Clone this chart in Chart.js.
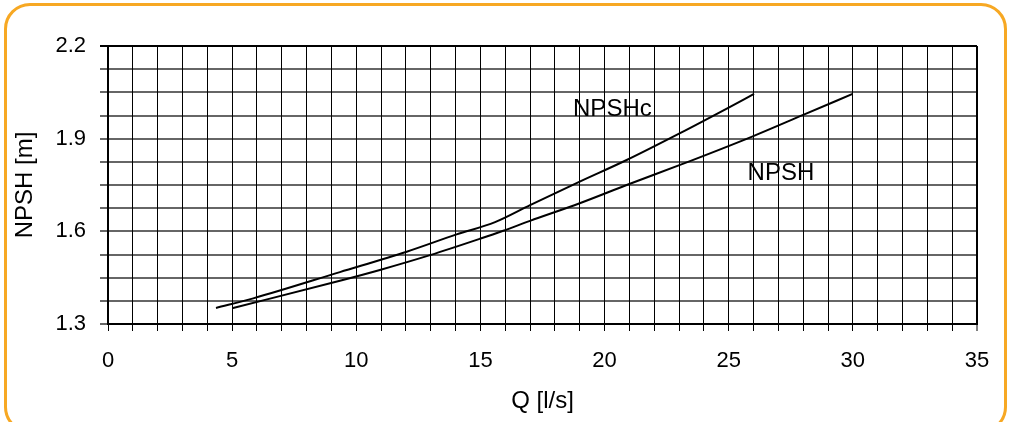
<!DOCTYPE html>
<html>
<head>
<meta charset="utf-8">
<script src="https://cdn.jsdelivr.net/npm/chart.js@4.4.1/dist/chart.umd.min.js"></script>
<style>
  html, body { margin: 0; padding: 0; background: #fff; }
  #wrap { position: relative; width: 1016px; height: 422px; overflow: hidden; }
  #frame {
    position: absolute; left: 4px; top: 3px; width: 1003px; height: 430px;
    border: 3px solid #f7a823; border-radius: 26px; box-sizing: border-box;
  }
  canvas { position: absolute; left: 0; top: 0; }
</style>
</head>
<body>
<div id="wrap">
  <div id="frame"></div>
  <canvas id="npshChart" width="1016" height="422"></canvas>
</div>
<script>
// NPSHc curve
const npshcQ = [4.35, 5.85, 9.34, 12.03, 14.04, 15.59, 17.0, 19.0, 20.89, 23.04, 24.98, 26.02];
const npshcValues = [1.352, 1.383, 1.468, 1.534, 1.59, 1.63, 1.685, 1.761, 1.831, 1.918, 2.0, 2.045];

// NPSH curve
const npshQ = [5.0, 9.34, 10.95, 12.97, 14.98, 15.92, 17.0, 19.0, 20.89, 23.04, 25.92, 28.0, 29.99];
const npshValues = [1.351, 1.44, 1.475, 1.523, 1.576, 1.602, 1.634, 1.691, 1.75, 1.815, 1.906, 1.977, 2.045];

// curve labels: text, Q, NPSH (data coords of the text's left baseline)
const curveLabels = ["NPSHc", "NPSH"];
const curveLabelQ = [18.73, 25.76];
const curveLabelY = [1.974, 1.766];

const xMin = 0, xMax = 35, xStep = 1, xLabelEvery = 5;
const yMin = 1.3, yMax = 2.2, yStep = 0.075, yLabelEvery = 0.3;

const FONT = "'Liberation Sans', Arial, sans-serif";

function toPoints(xs, ys) {
  return xs.map((x, i) => ({ x: x, y: ys[i] }));
}

function isMultiple(v, base, step) {
  const k = (v - base) / step;
  return Math.abs(k - Math.round(k)) < 1e-6;
}

// draws the curve names at data coordinates
const curveLabelPlugin = {
  id: "curveLabels",
  afterDatasetsDraw(chart) {
    const { ctx, scales } = chart;
    ctx.save();
    ctx.font = "24px " + FONT;
    ctx.fillStyle = "#000";
    ctx.textAlign = "left";
    ctx.textBaseline = "alphabetic";
    curveLabels.forEach((txt, i) => {
      ctx.fillText(txt, scales.x.getPixelForValue(curveLabelQ[i]), scales.y.getPixelForValue(curveLabelY[i]));
    });
    ctx.restore();
  },
};

const lineStyle = {
  showLine: true,
  borderColor: "#000",
  borderWidth: 2,
  pointRadius: 0,
  cubicInterpolationMode: "monotone",
};

new Chart(document.getElementById("npshChart"), {
  type: "scatter",
  data: {
    datasets: [
      Object.assign({ label: "NPSHc", data: toPoints(npshcQ, npshcValues) }, lineStyle),
      Object.assign({ label: "NPSH", data: toPoints(npshQ, npshValues) }, lineStyle),
    ],
  },
  options: {
    responsive: false,
    animation: false,
    layout: { padding: { left: 0, top: 46, right: 39, bottom: 0 } },
    plugins: { legend: { display: false }, tooltip: { enabled: false } },
    scales: {
      x: {
        type: "linear",
        min: xMin,
        max: xMax,
        afterFit: (s) => { s.height = 98; },
        afterBuildTicks: (s) => {
          const t = [];
          for (let v = xMin; v <= xMax + 1e-9; v += xStep) t.push({ value: v });
          s.ticks = t;
        },
        ticks: {
          autoSkip: false,
          maxRotation: 0,
          padding: 17,
          color: "#000",
          font: { family: FONT, size: 22 },
          callback: (v) => (isMultiple(v, 0, xLabelEvery) ? String(v) : ""),
        },
        grid: {
          color: "#000",
          lineWidth: (c) => (c.tick && c.tick.value === xMax ? 2 : 1),
          tickLength: 7,
          tickColor: "#000",
          tickWidth: 1,
        },
        border: { color: "#000", width: 2 },
        title: {
          display: true,
          text: "Q [l/s]",
          color: "#000",
          font: { family: FONT, size: 24 },
          padding: { top: 0, bottom: 6 },
        },
      },
      y: {
        type: "linear",
        min: yMin,
        max: yMax,
        afterFit: (s) => { s.width = 108; },
        afterBuildTicks: (s) => {
          const t = [];
          for (let k = 0; k <= 12; k++) t.push({ value: +(yMin + k * yStep).toFixed(4) });
          s.ticks = t;
        },
        ticks: {
          autoSkip: false,
          padding: 14,
          color: "#000",
          font: { family: FONT, size: 22 },
          callback: (v) => (isMultiple(v, yMin, yLabelEvery) ? v.toFixed(1) : ""),
        },
        grid: {
          color: (c) => (c.tick && Math.abs(c.tick.value - yMax) < 1e-6 ? "#000" : "rgba(0,0,0,0.6)"),
          lineWidth: 2,
          tickLength: 8,
        },
        border: { color: "#000", width: 2 },
        title: {
          display: true,
          text: "NPSH [m]",
          color: "#000",
          font: { family: FONT, size: 24 },
          padding: { top: 11, bottom: 0 },
        },
      },
    },
  },
  plugins: [curveLabelPlugin],
});
</script>
</body>
</html>
